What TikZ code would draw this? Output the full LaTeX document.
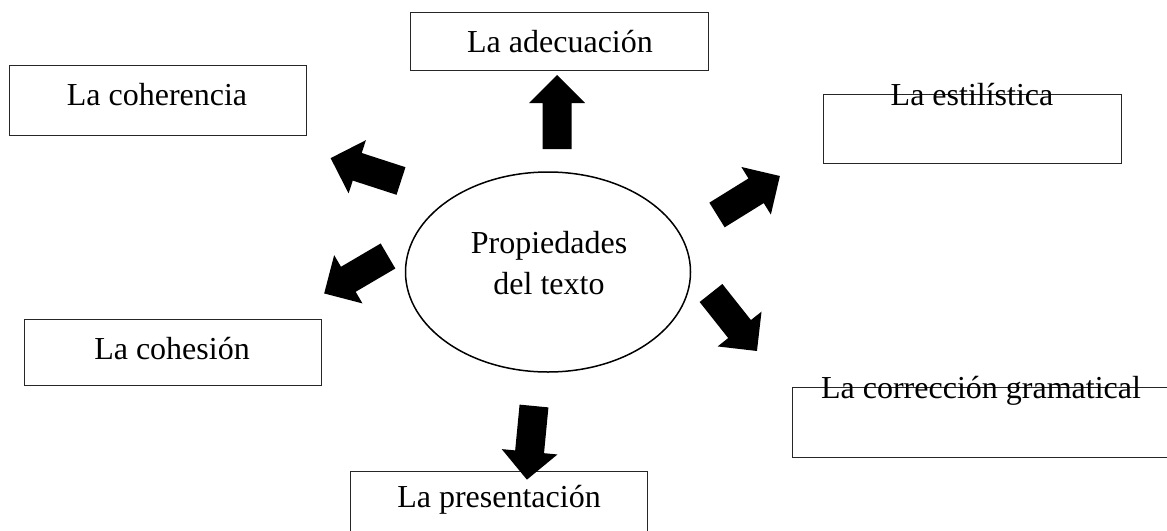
\documentclass[tikz,border=0pt]{standalone}
\usepackage{fontspec}
\setmainfont{Liberation Serif}
\usetikzlibrary{shapes.geometric}
\newcommand\blockarr[2]{%
  \begin{scope}[shift={(#1)},rotate=#2]
    \fill[black] (0,-14.5) -- (46,-14.5) -- (46,-28) -- (74,0) -- (46,28) -- (46,14.5) -- (0,14.5) -- cycle;
  \end{scope}}
\tikzset{
  box/.style={draw=black!85, line width=1pt, rectangle, inner sep=0pt},
  lbl/.style={anchor=base, inner sep=0pt, font=\fontsize{32}{41}\selectfont},
}
\begin{document}
\begin{tikzpicture}[x=1pt,y=-1pt]
\useasboundingbox (0,0) rectangle (1167,530);
\clip (0,0) rectangle (1167,530);
\fill[white] (0,0) rectangle (1167,530);
% boxes
\node[box, minimum width=298pt, minimum height=58pt] (ade) at (559,41) {};
\node[lbl] (adeT) at (560,52) {La adecuación};
\node[box, minimum width=297pt, minimum height=70pt] (coh) at (157.5,100) {};
\node[lbl] (cohT) at (157,105) {La coherencia};
\node[box, minimum width=298pt, minimum height=69pt] (est) at (972,128.5) {};
\node[lbl] (estT) at (972,105) {La estilística};
\node[box, minimum width=297pt, minimum height=66pt] (ces) at (172.5,352) {};
\node[lbl] (cesT) at (172,359) {La cohesión};
\node[box, minimum width=400pt, minimum height=70pt] (cor) at (992,422) {};
\node[lbl] (corT) at (981,398) {La corrección gramatical};
\node[box, minimum width=297pt, minimum height=66pt] (pre) at (498.5,504) {};
\node[lbl] (preT) at (499,507) {La presentación};
% centre ellipse
\node[ellipse, draw=black, line width=1.5pt, minimum width=285pt, minimum height=200pt, inner sep=0pt] (c) at (548,272) {};
\node[lbl] (cT1) at (549,253) {Propiedades};
\node[lbl] (cT2) at (549,294) {del texto};
% block arrows
\blockarr{557,149}{90}
\blockarr{534,406}{264.5}
\blockarr{401,181}{162}
\blockarr{388,256}{210.4}
\blockarr{717,215}{31.8}
\blockarr{711,293}{308.4}
\end{tikzpicture}
\end{document}
